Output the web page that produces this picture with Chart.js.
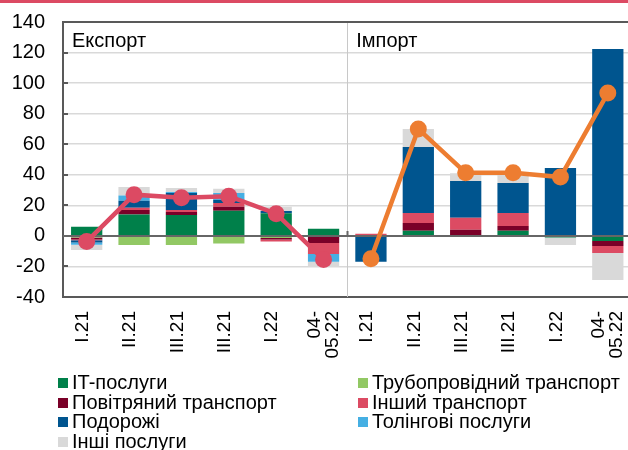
<!DOCTYPE html>
<html lang="uk">
<head>
<meta charset="UTF-8">
<title>Експорт та імпорт послуг</title>
<script src="https://cdn.jsdelivr.net/npm/chart.js"></script>
<style>
  body { margin: 0; background: #fff; font-family: 'Liberation Sans', Arial, sans-serif; }
  .wrap { position: relative; width: 628px; height: 450px; overflow: hidden; }
  .topline { position: absolute; left: 0; top: 0; width: 628px; height: 3px; background: #dc4a63; z-index: 1; }
  canvas { position: absolute; left: 0; top: 0; }
  .legend-item { position: absolute; font-size: 20px; line-height: 20px; color: #000; white-space: nowrap; }
  .legend-item span { display: inline-block; width: 10px; height: 10px; margin-right: 4px; vertical-align: 1px; }
</style>
</head>
<body>
<div class="wrap">
  <div class="topline"></div>
  <canvas id="chart" width="640" height="372"></canvas>
  <div id="legend"></div>
</div>
<script>
// quarters: first six are exports, last six imports
const labels = ['I.21', 'II.21', 'III.21', 'III.21', 'I.22', ['04-', '05.22'],
                'I.21', 'II.21', 'III.21', 'III.21', 'I.22', ['04-', '05.22']];

const itServices     = [6, 14, 13.7, 16.4, 14.8, 4.6,   0, 3.3, 0, 3.3, -1, -3.3];
const pipeline       = [-1, -6, -6, -5, -1.3, 0,        0, 0, 0, 0, 0, 0];
const airTransport   = [-1.3, 3, 2, 2.6, -1, -4.6,      0.4, 5.2, 4, 3.2, 0, -3.3];
const otherTransport = [-0.5, 1.5, 1.3, 2.6, -1.3, -7.2, 1, 6.5, 7.8, 8.5, 0, -4.6];
const travel         = [-1.5, 4.5, 11, 2, 1.5, 0,       -17, 43.2, 24.2, 19.7, 44.5, 122.4];
const tollingServices= [-1.5, 3.5, 0.8, 4.5, 0, -5.2,   0, 0, 0, 0, 0, 0];
const otherServices  = [-3.5, 5.5, 2.6, 2.7, 2.7, -3,   0, 11.8, 5, 6, -5, -17.7];

const exportTotal = [-3.7, 27, 25, 26, 14.5, -15.5, null, null, null, null, null, null];
const importTotal = [null, null, null, null, null, null, -15, 70, 41.3, 41.4, 38.5, 93.5];

const seriesNames = ['IT-послуги', 'Трубопровідний транспорт', 'Повітряний транспорт', 'Інший транспорт',
                     'Подорожі', 'Толінгові послуги', 'Інші послуги'];
const seriesData = [itServices, pipeline, airTransport, otherTransport, travel, tollingServices, otherServices];
const seriesColors = ['#00804a', '#92c864', '#7a0028', '#dc4b63', '#00558f', '#45afe3', '#d9d9d9'];

const fontFamily = "'Liberation Sans', Arial, sans-serif";
const tickFont = { family: fontFamily, size: 19 };
const valueFont = { family: fontFamily, size: 20 };
const axisGray = '#595959';

const datasets = seriesData.map((d, i) => ({
  type: 'bar',
  label: seriesNames[i],
  data: d,
  backgroundColor: seriesColors[i],
  borderWidth: 0,
  stack: 'services',
  order: 1,
  categoryPercentage: 0.66,
  barPercentage: 1
}));

function totalLine(data, color, stack) {
  return {
    type: 'line',
    data: data,
    borderColor: color,
    backgroundColor: color,
    pointBackgroundColor: color,
    borderWidth: 4.5,
    pointRadius: 8.5,
    pointBorderWidth: 0,
    spanGaps: false,
    stack: stack,
    order: 0
  };
}
datasets.push(totalLine(exportTotal, '#dc4a63', 'exp'));
datasets.push(totalLine(importTotal, '#ed7d31', 'imp'));

// frame, section titles, zero line, two-line category labels
let zeroDrawn = false;
const framePlugin = {
  id: 'frame',
  beforeDraw() { zeroDrawn = false; },
  beforeDatasetsDraw(chart) {
    const { ctx, chartArea: a, scales: { x, y } } = chart;
    const mid = (x.getPixelForValue(5) + x.getPixelForValue(6)) / 2;
    ctx.save();
    ctx.strokeStyle = '#c8c8c8';
    ctx.lineWidth = 1;
    ctx.beginPath();
    ctx.moveTo(Math.round(mid) + 0.5, a.top);
    ctx.lineTo(Math.round(mid) + 0.5, a.bottom);
    ctx.stroke();

    ctx.strokeStyle = axisGray;
    ctx.lineWidth = 2;
    ctx.beginPath();
    ctx.moveTo(a.left - 1, a.top);
    ctx.lineTo(a.right, a.top);
    ctx.stroke();

    // inward tick marks on the value axis
    ctx.beginPath();
    for (let v = -20; v <= 120; v += 20) {
      const py = Math.round(y.getPixelForValue(v));
      ctx.moveTo(a.left, py);
      ctx.lineTo(a.left + 5, py);
    }
    ctx.stroke();

    ctx.fillStyle = '#000';
    ctx.font = '20px ' + fontFamily;
    ctx.textBaseline = 'alphabetic';
    ctx.fillText('Експорт', a.left + 9, 47);
    ctx.fillText('Імпорт', mid + 9, 47);
    ctx.restore();
  },
  beforeDatasetDraw(chart, args) {
    if (zeroDrawn || args.meta.type !== 'line') return;
    zeroDrawn = true;
    const { ctx, chartArea: a, scales: { x, y } } = chart;
    const py = Math.round(y.getPixelForValue(0));
    const mid = (x.getPixelForValue(5) + x.getPixelForValue(6)) / 2;
    ctx.save();
    ctx.strokeStyle = '#666';
    ctx.lineWidth = 2;
    ctx.beginPath();
    ctx.moveTo(a.left, py);
    ctx.lineTo(a.right, py);
    ctx.moveTo(Math.round(mid) + 0.5, py);
    ctx.lineTo(Math.round(mid) + 0.5, py - 5);
    ctx.stroke();
    ctx.restore();
  },
  afterDraw(chart) {
    const { ctx, scales: { x } } = chart;
    ctx.save();
    ctx.font = '19px ' + fontFamily;
    ctx.fillStyle = '#000';
    ctx.textAlign = 'right';
    ctx.textBaseline = 'middle';
    labels.forEach((lab, i) => {
      if (!Array.isArray(lab)) return;
      const px = x.getPixelForValue(i);
      lab.forEach((line, j) => {
        ctx.save();
        ctx.translate(px + (j - (lab.length - 1) / 2) * 18, x.top + 14);
        ctx.rotate(-Math.PI / 2);
        ctx.fillText(line, 0, 0);
        ctx.restore();
      });
    });
    ctx.restore();
  }
};

new Chart(document.getElementById('chart'), {
  data: { labels: labels, datasets: datasets },
  options: {
    responsive: false,
    animation: false,
    layout: { padding: { top: 22, right: 0, bottom: 0, left: 0 } },
    plugins: { legend: { display: false }, tooltip: { enabled: false } },
    scales: {
      x: {
        stacked: true,
        grid: { display: false, drawTicks: false },
        border: { color: axisGray, width: 2 },
        ticks: {
          // two-line labels are drawn by the frame plugin
          color: c => Array.isArray(labels[c.index]) ? 'rgba(0,0,0,0)' : '#000',
          font: tickFont, minRotation: 90, maxRotation: 90, padding: 14, labelOffset: -4, autoSkip: false
        },
        afterFit: s => { s.height = 75; s.paddingLeft = 0; s.paddingRight = 0; }
      },
      y: {
        stacked: true,
        min: -40,
        max: 140,
        ticks: { stepSize: 20, padding: 18, color: '#000', font: valueFont },
        grid: {
          drawTicks: false,
          lineWidth: 1.5,
          color: c => (c.tick.value === 0 || c.tick.value === -40 || c.tick.value === 140) ? 'rgba(0,0,0,0)' : '#d9d9d9'
        },
        border: { color: axisGray, width: 2 },
        afterFit: s => { s.width = 63; s.paddingTop = 0; s.paddingBottom = 0; }
      }
    }
  },
  plugins: [framePlugin]
});

// legend in two columns
const legend = document.getElementById('legend');
seriesNames.forEach((name, i) => {
  const item = document.createElement('div');
  item.className = 'legend-item';
  item.style.left = (i % 2 ? 358 : 58) + 'px';
  item.style.top = (372 + Math.floor(i / 2) * 19.7) + 'px';
  const box = document.createElement('span');
  box.style.background = seriesColors[i];
  item.appendChild(box);
  item.appendChild(document.createTextNode(name));
  legend.appendChild(item);
});
</script>
</body>
</html>
